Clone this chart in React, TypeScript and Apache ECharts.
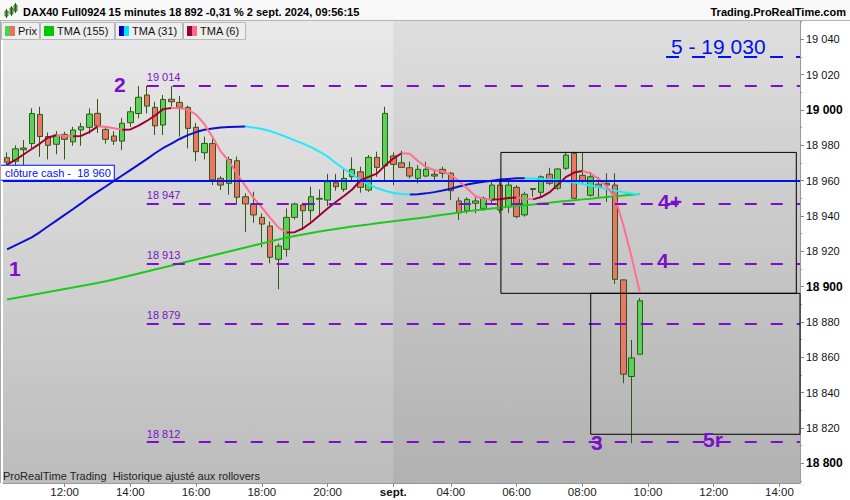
import React, { useEffect, useRef } from "react";
import * as echarts from "echarts";

// ---------- categories (15-minute slots) ----------
const sessions = [
  { day: "30/08", start: "10:15", count: 47 },
  { day: "02/09", start: "02:15", count: 50 },
];
const xLabelSlots = [
  "30/08 12:00", "30/08 14:00", "30/08 16:00", "30/08 18:00", "30/08 20:00",
  "02/09 02:15", "02/09 04:00", "02/09 06:00", "02/09 08:00", "02/09 10:00",
  "02/09 12:00", "02/09 14:00",
];
const xLabelTexts = [
  "12:00", "14:00", "16:00", "18:00", "20:00", "sept.", "04:00", "06:00",
  "08:00", "10:00", "12:00", "14:00",
];
const newDaySlot = "02/09 02:15";

// ---------- candles ----------
const opens = [
  18973, 18971, 18977.5, 18981, 18997.5, 18985, 18980.6, 18986.2, 18982, 18988.7,
  18990.2, 18998.1, 18989, 18985.3, 18982.4, 18992.8, 18998, 19008.5, 19001.5, 18991.5,
  19006.1, 19004.3, 19001.5, 18990.2, 18975.8, 18981, 18961.3, 18958.5, 18971.3, 18950.9,
  18946.8, 18939.2, 18934.3, 18915.5, 18921.1, 18939.2, 18946.2, 18943, 18949.5, 18949,
  18958.8, 18955.1, 18962.2, 18965, 18954.7, 18973.2, 18968.3, 18974, 18970.1, 18967.3,
  18961.3, 18962.6, 18963.6, 18966.4, 18964.2, 18948.5, 18943, 18947.2, 18944.3, 18949,
  18957.5, 18945.2, 18956.2, 18940.6, 18955, 18953.4, 18963.6, 18955.7, 18967, 18975.5,
  18963, 18951.7, 18958, 18958.5, 18957.5, 18903.8, 18849.1, 18861.7,
];
const closes = [
  18970.5, 18978, 18978.5, 18998, 18985, 18980, 18985.8, 18983.4, 18988.7, 18990.5,
  18997.7, 18991, 18983.4, 18982.4, 18992.5, 18999, 19007.2, 19002.2, 18991, 19006,
  19004.7, 19001.5, 18989.6, 18976.4, 18981.1, 18960.4, 18957.5, 18972, 18950.6, 18946.8,
  18940.6, 18935.4, 18916.6, 18923, 18939.2, 18946.8, 18943, 18950.9, 18950, 18959.4,
  18956.6, 18961.3, 18966.4, 18956.2, 18973.2, 18967.5, 18998.1, 18969.2, 18967.5, 18962.6,
  18966.4, 18966.4, 18962.6, 18964.2, 18954.3, 18941.8, 18949.4, 18948.5, 18950, 18957.5,
  18943.4, 18957.5, 18939.6, 18952.3, 18955.5, 18962.2, 18958.5, 18966.6, 18974.5, 18950,
  18960, 18962.2, 18956.5, 18957.5, 18904.1, 18850.4, 18859.6, 18892,
];
const lows = [
  18968, 18968, 18968, 18978, 18973.5, 18972, 18975, 18972, 18979.8, 18979.8,
  18986.6, 18987, 18981, 18980.2, 18977.3, 18990.5, 18995.3, 18998, 18985.8, 18985.8,
  19001.9, 18984.9, 18978.3, 18971, 18972, 18957.5, 18954.7, 18952, 18947.2, 18931,
  18936.2, 18922.3, 18913.2, 18898.5, 18917, 18938, 18932, 18936.8, 18940, 18945.6,
  18954.3, 18953.7, 18960, 18953.2, 18953.7, 18962.2, 18960.4, 18957.5, 18967.5, 18961.3,
  18958.5, 18961.9, 18960.4, 18961.3, 18949, 18937.7, 18941.5, 18941.5, 18943, 18947.2,
  18941.5, 18941.7, 18938.7, 18939.6, 18950.9, 18951, 18957.5, 18954.7, 18966, 18949.5,
  18958, 18950.9, 18950, 18948, 18901.5, 18845.3, 18811.3, 18861.7,
];
const highs = [
  18976, 18980, 18983, 19001, 19001.8, 18987.3, 18988, 18987.7, 18990.5, 18992.7,
  19000.9, 19006.2, 18990.8, 18988, 18995.5, 19001.8, 19013.6, 19013.6, 19004.7, 19008.5,
  19013.6, 19008, 19002.5, 18992.7, 18984.9, 18984, 18962.5, 18973.6, 18973.6, 18952.8,
  18953.7, 18941.5, 18936.8, 18924.5, 18944.3, 18947.5, 18947.5, 18956.6, 18955, 18963.8,
  18963.8, 18967, 18973.2, 18967.9, 18974.5, 18976.4, 19001.8, 18976, 18977, 18970.7,
  18968.9, 18970.7, 18966.4, 18967.9, 18965, 18950.6, 18950.6, 18950.6, 18951, 18959.4,
  18959.4, 18959.4, 18957.5, 18953.7, 18955.5, 18963, 18967.3, 18967, 18976.4, 18976.4,
  18976, 18965, 18962, 18964.2, 18964.2, 18904, 18869.8, 18893.6,
];

// ---------- moving averages ----------
const tma155 = [
  18892.7, 18893.6, 18894.4, 18895.3, 18896.1, 18897, 18897.8, 18898.7, 18899.5, 18900.4,
  18901.2, 18902.1, 18903, 18904, 18905.2, 18906.3, 18907.4, 18908.6, 18909.7, 18910.8,
  18912, 18913.1, 18914.2, 18915.4, 18916.5, 18917.6, 18918.8, 18919.9, 18921, 18922.2,
  18923.3, 18924.4, 18925.6, 18926.7, 18927.8, 18928.7, 18929.5, 18930.4, 18931.2, 18931.9,
  18932.6, 18933.3, 18934, 18934.6, 18935.2, 18935.9, 18936.4, 18937, 18937.6, 18938.2,
  18938.7, 18939.3, 18940, 18940.7, 18941.3, 18942, 18942.6, 18943.2, 18943.7, 18944.2,
  18944.7, 18945.2, 18945.6, 18946.1, 18946.5, 18947.1, 18947.5, 18948, 18948.5, 18948.9,
  18949.4, 18949.8, 18950.3, 18950.7, 18951.1, 18951.6, 18952, 18952.4,
];
const tma31 = [
  18921.1, 18923.4, 18925.6, 18927.9, 18930.9, 18934.2, 18937.4, 18940.6, 18943.8, 18947.1,
  18950.5, 18953.6, 18956.7, 18959.8, 18962.9, 18966, 18969.1, 18972.2, 18975.5, 18978.5,
  18981, 18983.6, 18985.8, 18987.5, 18988.8, 18989.5, 18990.1, 18990.4, 18990.5, 18990.6,
  18990.1, 18989.2, 18988.1, 18986.5, 18984.7, 18982.8, 18981, 18979, 18976.5, 18973.7,
  18970, 18966.6, 18963.5, 18960.4, 18957.8, 18955.8, 18954.3, 18953, 18952.4, 18952.2,
  18952.3, 18952.8, 18953.5, 18954.4, 18955.4, 18956.7, 18957.8, 18958.7, 18959.4, 18960,
  18960.6, 18961, 18961.3, 18961.4, 18961.2, 18960.9, 18960.6, 18960.1, 18959.5, 18958.9,
  18958.1, 18957.3, 18956.3, 18955.3, 18954.3, 18953.4, 18952.7, 18952.2,
];
const tma6 = [
  18969.1, 18971.7, 18974.8, 18977.9, 18981, 18984.4, 18985.7, 18985.4, 18985.2, 18985.3,
  18987.5, 18990.6, 18990.5, 18989.7, 18988.8, 18989, 18991.2, 18993.8, 18996.9, 19000.5,
  19001.1, 19001, 19000.3, 18997.4, 18992.1, 18984.7, 18976.5, 18971.1, 18963.8, 18957,
  18950.2, 18944.8, 18939.1, 18933.5, 18930.6, 18930.8, 18933, 18936.3, 18940.3, 18944.2,
  18947.9, 18951.3, 18955, 18960.1, 18962.1, 18964, 18968.6, 18972.5, 18975.5, 18975.2,
  18971.1, 18967.7, 18965.9, 18965.2, 18963.2, 18959.8, 18955.6, 18951.3, 18949.6, 18949.3,
  18949.5, 18950.2, 18950.5, 18949.9, 18949.4, 18950.7, 18953.3, 18957.5, 18962, 18964.6,
  18965.5, 18964.2, 18960.9, 18956.4, 18950.5, 18934.9, 18916.8, 18897.1,
];

// ---------- axis ticks ----------
const yLabelValues = [18800, 18820, 18840, 18860, 18880, 18900, 18920, 18940, 18960, 18980, 19000, 19020, 19040];
const yMin = 18788.8;
const yMax = 19050.4;
// tick scale: a wider span with round ends, laid over the same pixels
const tickMin = 18780;
const tickMax = 19060;
const tickStep = 20;

// ---------- annotations (price levels) ----------
const levelValues = [19014, 18947, 18913, 18879, 18812];
const levelStartSlot = 17;
const cashClose = 18960;
const target5 = 19030;
const target5StartSlot = 80.2;
const box1 = { x0: 60.1, x1: 96.05, top: 18976, bottom: 18896.2 };
const box2 = { x0: 71.03, x1: 96.5, top: 18896.2, bottom: 18816.4 };
const lastPrice = 18892;

const PURPLE = "#7b10c8";
const BLUE = "#0011ee";
const FONT = "'Liberation Sans', Arial, sans-serif";

const GRID_TOP = 21;
const GRID_BOTTOM = 17;
const CHART_H = 500;

function pad(n: number) {
  return n < 10 ? "0" + n : String(n);
}
function buildSlots() {
  const out: string[] = [];
  for (const s of sessions) {
    const [h, m] = s.start.split(":").map(Number);
    let t = h * 60 + m;
    for (let k = 0; k < s.count; k++) {
      out.push(`${s.day} ${pad(Math.floor(t / 60))}:${pad(t % 60)}`);
      t += 15;
    }
  }
  return out;
}
function fmt(v: number) {
  const s = String(Math.round(v));
  return s.slice(0, s.length - 3) + " " + s.slice(-3);
}
function slopeRuns(vals: number[], rising: boolean) {
  const out: any[] = [];
  let open = false;
  for (let i = 0; i < vals.length - 1; i++) {
    const up = vals[i + 1] >= vals[i];
    if (up === rising) {
      if (!open) {
        out.push([i, vals[i]]);
        open = true;
      }
      out.push([i + 1, vals[i + 1]]);
    } else if (open) {
      out.push([i + 0.5, "-"]);
      open = false;
    }
  }
  return out;
}

export default function App() {
  const ref = useRef<HTMLDivElement>(null);

  useEffect(() => {
    document.body.style.margin = "0";
    if (!ref.current) return;
    const chart = echarts.init(ref.current, undefined, { renderer: "svg" });

    const slots = buildSlots();
    const nSlots = slots.length;
    const labelIdx = new Map<number, string>();
    xLabelSlots.forEach((s, k) => labelIdx.set(slots.indexOf(s), xLabelTexts[k]));
    const newDayIdx = slots.indexOf(newDaySlot);

    // second grid for the price ticks: same pixels per point as the main grid
    const plotH = CHART_H - GRID_TOP - GRID_BOTTOM;
    const pxPerPt = plotH / (yMax - yMin);
    const tickGridTop = GRID_TOP - (tickMax - yMax) * pxPerPt;
    const tickGridBottom = GRID_BOTTOM - (yMin - tickMin) * pxPerPt;

    const candleData = opens.map((o, i) => [o, closes[i], lows[i], highs[i]]);

    const maSeries = (name: string, vals: number[], upColor: string, downColor: string, extra: any = {}) => [
      {
        name: name + "-up",
        type: "line",
        xAxisIndex: 1,
        yAxisIndex: 0,
        data: slopeRuns(vals, true),
        showSymbol: false,
        connectNulls: false,
        lineStyle: { color: upColor, width: 2 },
        itemStyle: { color: upColor },
        z: 3,
        silent: true,
        ...extra,
      },
      {
        name: name + "-down",
        type: "line",
        xAxisIndex: 1,
        yAxisIndex: 0,
        data: slopeRuns(vals, false),
        showSymbol: false,
        connectNulls: false,
        lineStyle: { color: downColor, width: 2 },
        itemStyle: { color: downColor },
        z: 3,
        silent: true,
      },
    ];

    const levelLines = levelValues.map((v) => [
      {
        coord: [levelStartSlot, v],
        label: {
          show: true,
          position: "insideStartTop",
          formatter: fmt(v),
          color: PURPLE,
          fontSize: 11,
          fontFamily: FONT,
          distance: [0, 3],
        },
        lineStyle: { color: PURPLE, width: 2, type: [12, 14] },
      },
      { coord: [nSlots - 0.5, v] },
    ]);

    const txt = (text: string, x: number, y: number, style: any = {}) => ({
      type: "text",
      x,
      y,
      z: 100,
      silent: true,
      style: {
        text,
        fontFamily: FONT,
        fontSize: 11,
        fill: "#111",
        verticalAlign: "middle",
        ...style,
      },
    });
    const rect = (x: number, y: number, w: number, h: number, style: any) => ({
      type: "rect",
      z: 99,
      silent: true,
      shape: { x, y, width: w, height: h },
      style,
    });

    const graphic: any[] = [
      rect(0, 0, 850, 21, { fill: "#f8f8f8" }),
      rect(799, 487, 12, 13, { fill: "#ffffff" }),
      { type: "line", z: 100, silent: true, shape: { x1: 0, y1: 20.5, x2: 850, y2: 20.5 }, style: { stroke: "#b4b4b4", lineWidth: 1 } },
      { type: "line", z: 100, silent: true, shape: { x1: 0.5, y1: 21, x2: 0.5, y2: 483 }, style: { stroke: "#a8a8a8", lineWidth: 1 } },
      // header icon
      { type: "line", z: 100, silent: true, shape: { x1: 6.5, y1: 9, x2: 6.5, y2: 18 }, style: { stroke: "#2e5a12", lineWidth: 1 } },
      rect(5, 11, 3, 5, { fill: "#5ad25a", stroke: "#2e5a12", lineWidth: 0.8 }),
      { type: "line", z: 100, silent: true, shape: { x1: 11.5, y1: 6, x2: 11.5, y2: 16 }, style: { stroke: "#2e5a12", lineWidth: 1 } },
      rect(10, 8, 3, 6, { fill: "#5ad25a", stroke: "#2e5a12", lineWidth: 0.8 }),
      { type: "line", z: 100, silent: true, shape: { x1: 15.5, y1: 3, x2: 15.5, y2: 13 }, style: { stroke: "#2e5a12", lineWidth: 1 } },
      rect(14, 5, 3, 6, { fill: "#5ad25a", stroke: "#2e5a12", lineWidth: 0.8 }),
      txt("DAX40 Full0924 15 minutes 18 892 -0,31 % 2 sept. 2024, 09:56:15", 23, 12, { fontWeight: "bold", fill: "#000" }),
      txt("Trading.ProRealTime.com", 846, 12, { fontWeight: "bold", fill: "#000", align: "right" }),
      // legend
      rect(1.5, 22.5, 38, 17, { fill: "#eeeeee", stroke: "#b8b8b8", lineWidth: 1 }),
      rect(5, 26, 5, 10, { fill: "#4fd14f" }),
      rect(10, 26, 5, 10, { fill: "#ec6d62" }),
      txt("Prix", 18, 31),
      rect(40.5, 22.5, 74, 17, { fill: "#eeeeee", stroke: "#b8b8b8", lineWidth: 1 }),
      rect(44, 26, 10, 10, { fill: "#00c800" }),
      txt("TMA (155)", 57, 31),
      rect(115.5, 22.5, 67, 17, { fill: "#eeeeee", stroke: "#b8b8b8", lineWidth: 1 }),
      rect(119, 26, 5, 10, { fill: "#0000cc" }),
      rect(124, 26, 5, 10, { fill: "#00e5ff" }),
      txt("TMA (31)", 132, 31),
      rect(183.5, 22.5, 62, 17, { fill: "#eeeeee", stroke: "#b8b8b8", lineWidth: 1 }),
      rect(187, 26, 5, 10, { fill: "#990033" }),
      rect(192, 26, 5, 10, { fill: "#ff6a8a" }),
      txt("TMA (6)", 200, 31),
      // wave labels
      txt("2", 114, 84, { fontSize: 21, fontWeight: "bold", fill: PURPLE }),
      txt("1", 9, 268, { fontSize: 21, fontWeight: "bold", fill: PURPLE }),
      txt("4+", 658, 201, { fontSize: 21, fontWeight: "bold", fill: PURPLE }),
      txt("4", 657, 260, { fontSize: 21, fontWeight: "bold", fill: PURPLE }),
      txt("3", 591, 442, { fontSize: 21, fontWeight: "bold", fill: PURPLE }),
      txt("5r", 703, 439, { fontSize: 21, fontWeight: "bold", fill: PURPLE }),
      txt("5 - 19 030", 671, 46, { fontSize: 21, fill: BLUE }),
      txt("ProRealTime Trading  Historique ajusté aux rollovers", 3, 476, { fill: "#222" }),
    ];

    const option: any = {
      animation: false,
      textStyle: { fontFamily: FONT },
      grid: [
        {
          left: 3,
          right: 50,
          top: GRID_TOP,
          bottom: GRID_BOTTOM,
          show: true,
          borderWidth: 0,
          outerBoundsMode: "none",
          backgroundColor: new echarts.graphic.LinearGradient(0, 0, 0, 1, [
            { offset: 0, color: "#e9e9e9" },
            { offset: 1, color: "#bcbcbc" },
          ]),
        },
        {
          left: 3,
          right: 50,
          top: tickGridTop,
          bottom: tickGridBottom,
          show: false,
          outerBoundsMode: "none",
        },
      ],
      xAxis: [
        {
          type: "category",
          gridIndex: 0,
          data: slots,
          boundaryGap: true,
          position: "bottom",
          axisLine: { show: true, onZero: false, lineStyle: { color: "#9a9a9a", width: 1 } },
          axisTick: {
            show: true,
            alignWithLabel: true,
            length: 4,
            interval: (i: number) => labelIdx.has(i),
            lineStyle: { color: "#888" },
          },
          axisLabel: {
            interval: (i: number) => labelIdx.has(i),
            formatter: (_v: string, i: number) => {
              const t = labelIdx.get(i) || "";
              return i === newDayIdx ? `{b|${t}}` : t;
            },
            color: "#222",
            fontSize: 11.5,
            margin: 3,
            rich: { b: { fontWeight: "bold", fontSize: 11.5, color: "#111" } },
          },
          splitLine: { show: false },
        },
        {
          type: "value",
          gridIndex: 0,
          min: -0.5,
          max: nSlots - 0.5,
          show: false,
          axisLine: { onZero: false },
          splitLine: { show: false },
        },
        {
          type: "value",
          gridIndex: 1,
          min: 0,
          max: 1,
          show: false,
          axisLine: { onZero: false },
          splitLine: { show: false },
        },
      ],
      yAxis: [
        {
          type: "value",
          gridIndex: 0,
          position: "right",
          min: yMin,
          max: yMax,
          axisLine: { show: true, onZero: false, lineStyle: { color: "#9a9a9a" } },
          axisTick: { show: false },
          axisLabel: {
            customValues: yLabelValues,
            formatter: (v: number) => (Math.round(v) % 100 === 0 ? `{b|${fmt(v)}}` : fmt(v)),
            color: "#111",
            fontSize: 11,
            margin: 6,
            rich: { b: { fontWeight: "bold", fontSize: 12, color: "#000" } },
          },
          splitLine: { show: false },
        },
        {
          type: "value",
          gridIndex: 1,
          position: "right",
          min: tickMin,
          max: tickMax,
          interval: tickStep,
          axisLine: { show: false, onZero: false },
          axisTick: { show: true, length: 4, lineStyle: { color: "#888" } },
          minorTick: { show: true, splitNumber: 2, length: 2, lineStyle: { color: "#999" } },
          axisLabel: { show: false },
          splitLine: { show: false },
        },
      ],
      graphic,
      series: [
        {
          name: "Prix",
          type: "candlestick",
          xAxisIndex: 0,
          yAxisIndex: 0,
          data: candleData,
          barWidth: 6,
          z: 2,
          silent: true,
          itemStyle: {
            color: "#5ad25a",
            color0: "#ec7468",
            borderColor: "#2e5a12",
            borderColor0: "#2e5a12",
            borderWidth: 1,
          },
          markLine: {
            silent: true,
            symbol: ["none", "none"],
            animation: false,
            data: [
              {
                yAxis: lastPrice,
                lineStyle: { opacity: 0 },
                label: {
                  show: true,
                  position: "end",
                  formatter: fmt(lastPrice),
                  backgroundColor: "#ffcc00",
                  borderColor: "#9a9a9a",
                  borderWidth: 1,
                  padding: [2, 3, 1, 2],
                  color: "#000",
                  fontSize: 11,
                  distance: 5,
                },
              },
            ],
          },
        },
        ...maSeries("TMA155", tma155, "#1ec81e", "#1ec81e", {
          markArea: {
            silent: true,
            z: 1,
            animation: false,
            label: { show: false },
            data: [
              [
                {
                  xAxis: newDayIdx - 0.03,
                  itemStyle: {
                    color: new echarts.graphic.LinearGradient(0, 0, 0, 1, [
                      { offset: 0, color: "#dedede" },
                      { offset: 1, color: "#b1b1b1" },
                    ]),
                  },
                },
                { xAxis: nSlots - 0.5 },
              ],
            ],
          },
        }),
        ...maSeries("TMA31", tma31, "#0a10cc", "#22e8ff", {
          markLine: {
            silent: true,
            symbol: ["none", "none"],
            animation: false,
            z: 6,
            data: [
              ...levelLines,
              {
                yAxis: cashClose,
                lineStyle: { color: BLUE, width: 2, type: "solid" },
                label: {
                  show: true,
                  position: "insideStartTop",
                  formatter: "clôture cash -  " + fmt(cashClose),
                  color: BLUE,
                  fontSize: 11,
                  backgroundColor: "#ffffff",
                  borderColor: BLUE,
                  borderWidth: 1,
                  padding: [2, 3, 1, 4],
                  distance: [-2, 1],
                },
              },
              [
                { coord: [target5StartSlot, target5], lineStyle: { color: BLUE, width: 2, type: [13, 13] }, label: { show: false } },
                { coord: [nSlots - 0.5, target5] },
              ],
            ],
          },
        }),
        ...maSeries("TMA6", tma6, "#a0002c", "#ff6f91", {
          markArea: {
            silent: true,
            z: 7,
            animation: false,
            label: { show: false },
            itemStyle: { color: "rgba(0,0,0,0)", borderColor: "#000", borderWidth: 1 },
            data: [
              [{ coord: [box1.x0, box1.top] }, { coord: [box1.x1, box1.bottom] }],
              [{ coord: [box2.x0, box2.top] }, { coord: [box2.x1, box2.bottom] }],
            ],
          },
        }),
      ],
    };

    chart.setOption(option);
    return () => chart.dispose();
  }, []);

  return <div ref={ref} style={{ width: 850, height: 500 }} />;
}
